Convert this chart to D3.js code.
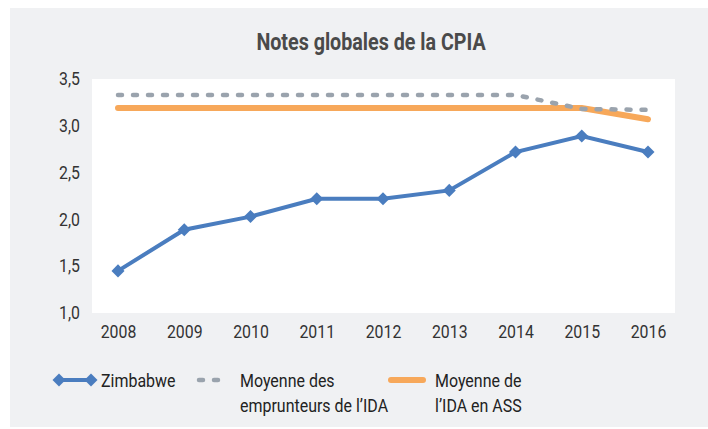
<!DOCTYPE html>
<html>
<head>
<meta charset="utf-8">
<script src="https://cdn.jsdelivr.net/npm/d3@7"></script>
<style>
body { margin: 0; background: #fff; }
text { font-family: Roboto, "Liberation Sans", sans-serif; }
</style>
</head>
<body>
<script>
// data
var years = ["2008", "2009", "2010", "2011", "2012", "2013", "2014", "2015", "2016"];
var zimbabwe = [1.45, 1.89, 2.03, 2.22, 2.22, 2.31, 2.72, 2.89, 2.72];
var idaBorrowers = [3.33, 3.33, 3.33, 3.33, 3.33, 3.33, 3.33, 3.18, 3.17];
var idaSSA = [3.19, 3.19, 3.19, 3.19, 3.19, 3.19, 3.19, 3.19, 3.07];
var yTicks = [1.0, 1.5, 2.0, 2.5, 3.0, 3.5];

var W = 708, H = 429;
var plot = {left: 92, right: 675, top: 79, bottom: 313};

var svg = d3.select("body").append("svg")
    .attr("width", W)
    .attr("height", H);

// squeeze text horizontally to imitate the condensed face
function condense(sel, f) {
    sel.each(function() {
        var w = this.getComputedTextLength();
        d3.select(this)
            .attr("textLength", w * f)
            .attr("lengthAdjust", "spacingAndGlyphs");
    });
}

// gray panel behind everything
svg.append("rect")
    .attr("x", 10).attr("y", 8)
    .attr("width", W - 10).attr("height", H - 10)
    .attr("fill", "#f0f1f3");

// white plot area
svg.append("rect")
    .attr("x", plot.left).attr("y", plot.top)
    .attr("width", plot.right - plot.left)
    .attr("height", plot.bottom - plot.top)
    .attr("fill", "#ffffff");

svg.append("text")
    .attr("x", 371).attr("y", 50)
    .attr("text-anchor", "middle")
    .attr("font-size", 24)
    .attr("font-weight", "bold")
    .attr("fill", "#4a4a4a")
    .text("Notes globales de la CPIA")
    .call(condense, 0.82);

var xScale = d3.scalePoint().domain(years).range([118, 648]);
var yScale = d3.scaleLinear().domain([1, 3.5]).range([plot.bottom, plot.top]);

// axes (no lines, only labels)
var xAxis = svg.append("g")
    .attr("transform", "translate(0," + plot.bottom + ")")
    .call(d3.axisBottom(xScale).tickSize(0).tickPadding(12));
var yAxis = svg.append("g")
    .attr("transform", "translate(" + plot.left + ",0)")
    .call(d3.axisLeft(yScale).tickValues(yTicks).tickSize(0).tickPadding(12)
        .tickFormat(function(d) { return d3.format(".1f")(d).replace(".", ","); }));
[xAxis, yAxis].forEach(function(g) {
    g.select(".domain").remove();
    g.selectAll("text")
        .attr("font-size", 18)
        .attr("fill", "#333333")
        .style("font-family", "Roboto, 'Liberation Sans', sans-serif")
        .call(condense, 0.88);
});

var line = d3.line()
    .x(function(d, i) { return xScale(years[i]); })
    .y(function(d) { return yScale(d); });

svg.append("path")
    .datum(idaSSA)
    .attr("d", line)
    .attr("fill", "none")
    .attr("stroke", "#f7a85a")
    .attr("stroke-width", 6)
    .attr("stroke-linecap", "round");

svg.append("path")
    .datum(idaBorrowers)
    .attr("d", line)
    .attr("fill", "none")
    .attr("stroke", "#9aa3ad")
    .attr("stroke-width", 4.5)
    .attr("stroke-linecap", "round")
    .attr("stroke-dasharray", "4,11");

svg.append("path")
    .datum(zimbabwe)
    .attr("d", line)
    .attr("fill", "none")
    .attr("stroke", "#4a7dbf")
    .attr("stroke-width", 4);

var diamond = d3.symbol().type(d3.symbolSquare).size(85);
svg.selectAll(".pt")
    .data(zimbabwe)
    .enter().append("path")
    .attr("class", "pt")
    .attr("d", diamond)
    .attr("transform", function(d, i) {
        return "translate(" + xScale(years[i]) + "," + yScale(d) + ") rotate(45)";
    })
    .attr("fill", "#4a7dbf");

// legend
var lg = svg.append("g");
lg.append("line")
    .attr("x1", 59).attr("x2", 91).attr("y1", 380).attr("y2", 380)
    .attr("stroke", "#4a7dbf").attr("stroke-width", 4);
[59, 91].forEach(function(x) {
    lg.append("path").attr("d", diamond)
        .attr("transform", "translate(" + x + ",380) rotate(45)")
        .attr("fill", "#4a7dbf");
});
lg.append("line")
    .attr("x1", 199).attr("x2", 228).attr("y1", 380).attr("y2", 380)
    .attr("stroke", "#9aa3ad").attr("stroke-width", 4.5)
    .attr("stroke-linecap", "round").attr("stroke-dasharray", "4,11");
lg.append("line")
    .attr("x1", 391).attr("x2", 423).attr("y1", 380).attr("y2", 380)
    .attr("stroke", "#f7a85a").attr("stroke-width", 6)
    .attr("stroke-linecap", "round");

var legendText = [
    {x: 101, lines: ["Zimbabwe"]},
    {x: 240, lines: ["Moyenne des", "emprunteurs de l\u2019IDA"]},
    {x: 435, lines: ["Moyenne de", "l\u2019IDA en ASS"]}
];
legendText.forEach(function(t) {
    t.lines.forEach(function(s, j) {
        lg.append("text")
            .attr("x", t.x).attr("y", 387 + j * 25)
            .attr("font-size", 19)
            .attr("fill", "#222222")
            .text(s)
            .call(condense, 0.84);
    });
});
</script>
</body>
</html>
